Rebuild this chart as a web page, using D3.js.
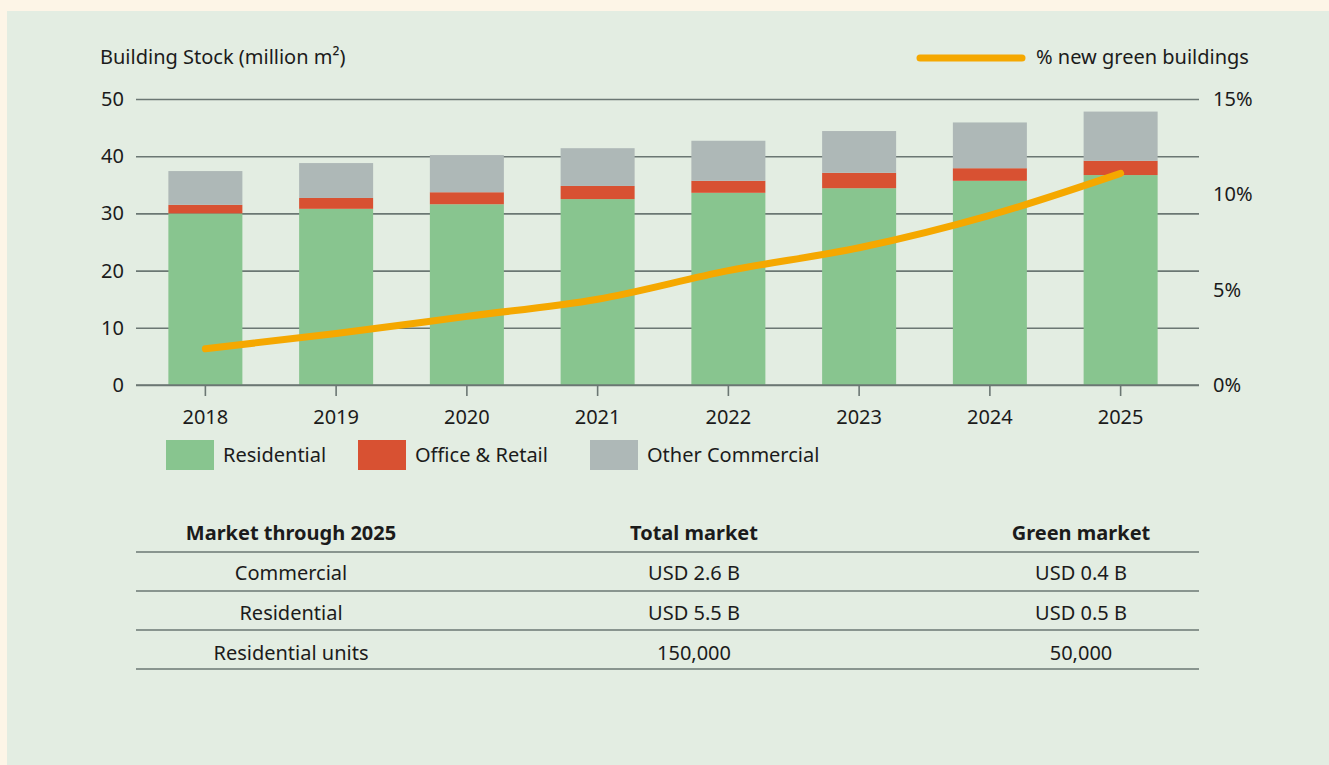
<!DOCTYPE html>
<html>
<head>
<meta charset="utf-8">
<script src="https://cdn.jsdelivr.net/npm/d3@7"></script>
<style>
  body { margin: 0; background: #fdf5e7; }
  svg { display: block; font-family: "Noto Sans", sans-serif; }
</style>
</head>
<body>
<svg id="chart" width="1329" height="765"></svg>
<script>
const years = ["2018", "2019", "2020", "2021", "2022", "2023", "2024", "2025"];
const residential = [30.0, 30.8, 31.6, 32.5, 33.6, 34.4, 35.7, 36.7];
const officeRetail = [1.5, 1.9, 2.1, 2.3, 2.1, 2.7, 2.2, 2.5];
const otherCommercial = [5.9, 6.1, 6.5, 6.6, 7.0, 7.3, 8.0, 8.6];
const greenShare = [1.9, 2.7, 3.6, 4.5, 6.0, 7.2, 8.9, 11.1];

const leftTicks = [0, 10, 20, 30, 40, 50];
const rightTicks = [0, 5, 10, 15];

const seriesNames = ["Residential", "Office & Retail", "Other Commercial"];
const colors = {
  Residential: "#88c58f",
  "Office & Retail": "#d85132",
  "Other Commercial": "#aeb8b7",
};

const tableHeader = ["Market through 2025", "Total market", "Green market"];
const tableRows = [
  ["Commercial", "USD 2.6 B", "USD 0.4 B"],
  ["Residential", "USD 5.5 B", "USD 0.5 B"],
  ["Residential units", "150,000", "50,000"],
];

const textColor = "#1b1b1b";
const gridColor = "#6b7773";
const lineColor = "#f5a800";

const svg = d3.select("#chart");

// green panel
svg.append("rect")
  .attr("x", 7).attr("y", 11)
  .attr("width", 1329 - 7).attr("height", 765 - 11)
  .attr("fill", "#e3ede2");

const plot = { left: 136, right: 1199, top: 99, bottom: 385 };

const x = d3.scaleBand()
  .domain(years)
  .range([140, 1186])
  .paddingInner(0.434)
  .paddingOuter(0.217);

const y = d3.scaleLinear().domain([0, 50]).range([plot.bottom, plot.top]);
const yRight = d3.scaleLinear().domain([0, 15]).range([plot.bottom, plot.top]);

// gridlines
svg.append("g")
  .attr("transform", `translate(${plot.left},0)`)
  .call(d3.axisLeft(y).tickValues(leftTicks).tickSize(-(plot.right - plot.left)).tickFormat(""))
  .call(g => g.select(".domain").remove())
  .call(g => g.selectAll("line").attr("stroke", gridColor).attr("stroke-width", 1.6));

// left labels
svg.append("g")
  .selectAll("text")
  .data(leftTicks)
  .join("text")
  .attr("x", 124)
  .attr("y", d => y(d))
  .attr("dy", "0.35em")
  .attr("text-anchor", "end")
  .attr("font-size", 20)
  .attr("fill", textColor)
  .text(d => d);

// right labels
svg.append("g")
  .selectAll("text")
  .data(rightTicks)
  .join("text")
  .attr("x", 1213)
  .attr("y", d => yRight(d))
  .attr("dy", "0.35em")
  .attr("font-size", 20)
  .attr("fill", textColor)
  .text(d => d + "%");

// stacked bars
const rows = years.map((yr, i) => ({
  year: yr,
  Residential: residential[i],
  "Office & Retail": officeRetail[i],
  "Other Commercial": otherCommercial[i],
}));
const stacked = d3.stack().keys(seriesNames)(rows);

svg.append("g")
  .selectAll("g")
  .data(stacked)
  .join("g")
  .attr("fill", d => colors[d.key])
  .selectAll("rect")
  .data(d => d)
  .join("rect")
  .attr("x", d => x(d.data.year))
  .attr("width", x.bandwidth())
  .attr("y", d => y(d[1]))
  .attr("height", d => y(d[0]) - y(d[1]));

// x axis ticks + labels
const xAxis = svg.append("g")
  .attr("transform", `translate(0,${plot.bottom})`);
xAxis.append("line")
  .attr("x1", plot.left).attr("x2", plot.right)
  .attr("stroke", gridColor).attr("stroke-width", 1.6);
xAxis.selectAll(".tick")
  .data(years)
  .join("line")
  .attr("x1", d => x(d) + x.bandwidth() / 2)
  .attr("x2", d => x(d) + x.bandwidth() / 2)
  .attr("y1", 0).attr("y2", 11)
  .attr("stroke", gridColor).attr("stroke-width", 1.6);
xAxis.selectAll("text")
  .data(years)
  .join("text")
  .attr("x", d => x(d) + x.bandwidth() / 2)
  .attr("y", 32)
  .attr("dy", "0.35em")
  .attr("text-anchor", "middle")
  .attr("font-size", 20)
  .attr("fill", textColor)
  .text(d => d);

// green share line
const line = d3.line()
  .x((d, i) => x(years[i]) + x.bandwidth() / 2)
  .y(d => yRight(d))
  .curve(d3.curveMonotoneX);

svg.append("path")
  .datum(greenShare)
  .attr("d", line)
  .attr("fill", "none")
  .attr("stroke", lineColor)
  .attr("stroke-width", 7)
  .attr("stroke-linecap", "round")
  .attr("stroke-linejoin", "round");

// axis title
svg.append("text")
  .attr("x", 100).attr("y", 57)
  .attr("dy", "0.35em")
  .attr("font-size", 20)
  .attr("fill", textColor)
  .text("Building Stock (million m²)");

// line legend
svg.append("line")
  .attr("x1", 920).attr("x2", 1022)
  .attr("y1", 58).attr("y2", 58)
  .attr("stroke", lineColor)
  .attr("stroke-width", 7)
  .attr("stroke-linecap", "round");
svg.append("text")
  .attr("x", 1036).attr("y", 57)
  .attr("dy", "0.35em")
  .attr("font-size", 20)
  .attr("fill", textColor)
  .text("% new green buildings");

// bar legend
const legendX = [166, 358, 590];
const legend = svg.append("g")
  .selectAll("g")
  .data(seriesNames)
  .join("g")
  .attr("transform", (d, i) => `translate(${legendX[i]},440)`);
legend.append("rect")
  .attr("width", 48).attr("height", 30)
  .attr("fill", d => colors[d]);
legend.append("text")
  .attr("x", 57).attr("y", 15)
  .attr("dy", "0.35em")
  .attr("font-size", 20)
  .attr("fill", textColor)
  .text(d => d);

// table
const colX = [291, 694, 1081];
const rowY = [533, 573, 613, 653];
const ruleY = [552, 591, 630, 669];

svg.append("g")
  .selectAll("text")
  .data(tableHeader)
  .join("text")
  .attr("x", (d, i) => colX[i])
  .attr("y", rowY[0])
  .attr("dy", "0.35em")
  .attr("text-anchor", "middle")
  .attr("font-size", 20)
  .attr("font-weight", "bold")
  .attr("fill", textColor)
  .text(d => d);

svg.append("g")
  .selectAll("g")
  .data(tableRows)
  .join("g")
  .each(function (row, r) {
    d3.select(this).selectAll("text")
      .data(row)
      .join("text")
      .attr("x", (d, i) => colX[i])
      .attr("y", rowY[r + 1])
      .attr("dy", "0.35em")
      .attr("text-anchor", "middle")
      .attr("font-size", 20)
      .attr("fill", textColor)
      .text(d => d);
  });

svg.append("g")
  .selectAll("line")
  .data(ruleY)
  .join("line")
  .attr("x1", plot.left).attr("x2", plot.right)
  .attr("y1", d => d).attr("y2", d => d)
  .attr("stroke", gridColor)
  .attr("stroke-width", 1.6);
</script>
</body>
</html>
